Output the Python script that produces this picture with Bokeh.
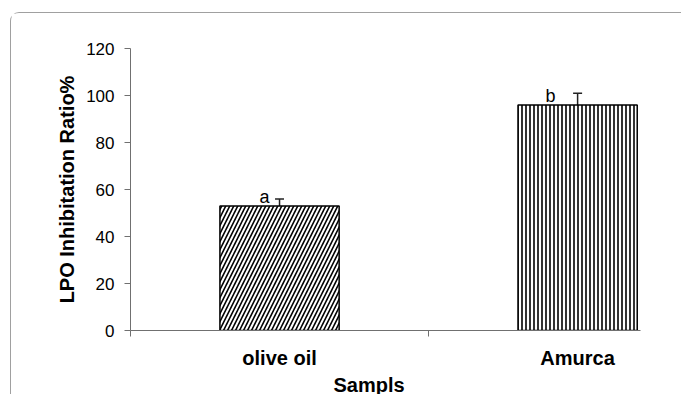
from bokeh.plotting import figure
from bokeh.models import Range1d, FixedTicker, Whisker, TeeHead, ColumnDataSource, Title
from bokeh.core.properties import value
from bokeh.embed import file_html
from bokeh.resources import INLINE

categories = ["olive oil", "Amurca"]
values = [53, 96]
errors = [3, 5]
letters = ["a", "b"]
y_ticks = [0, 20, 40, 60, 80, 100, 120]

hatches = ["/", "|"]
hatch_scales = [8, 4]
letter_dx = [-15, -27]

xs = [i + 0.5 for i in range(len(categories))]
src = ColumnDataSource(dict(
    x=xs, top=values, upper=[v + e for v, e in zip(values, errors)],
    lower=[v - e for v, e in zip(values, errors)], hatch=hatches,
    hscale=hatch_scales, letter=letters, dx=letter_dx,
))

FONT = "Liberation Sans"

p = figure(width=671, height=382, output_backend="svg", toolbar_location=None,
           x_range=Range1d(0, 1.711), y_range=Range1d(0, 120),
           min_border_left=119, min_border_top=35, min_border_right=42, min_border_bottom=62,
           styles={"margin-left": "10px", "margin-top": "12px",
                   "border-top": "1.5px solid #a0a0a0", "border-left": "1.5px solid #a0a0a0",
                   "border-top-left-radius": "9px"})
p.outline_line_color = None
p.background_fill_color = "white"

p.vbar(x="x", top="top", width=0.4, source=src, fill_color="white",
       line_color="black", line_width=1.5, hatch_pattern="hatch",
       hatch_color="black", hatch_scale="hscale", hatch_weight=1.6)

w = Whisker(base="x", upper="upper", lower="lower", source=src,
            line_color="#222222", line_width=1.5,
            upper_head=TeeHead(size=9, line_color="#222222", line_width=1.5),
            lower_head=TeeHead(size=9, line_color="#222222", line_width=1.5))
p.add_layout(w)

p.text(x="x", y="top", text="letter", source=src, x_offset="dx", y_offset=-9,
       text_align="center", text_baseline="alphabetic",
       text_font=value(FONT), text_font_size="18px", text_color="black")

# y axis
p.yaxis.ticker = FixedTicker(ticks=y_ticks)
p.yaxis.axis_label = "LPO Inhibitation Ratio%"
p.yaxis.axis_label_text_font = FONT
p.yaxis.axis_label_text_font_size = "20px"
p.yaxis.axis_label_text_font_style = "bold"
p.yaxis.axis_label_text_color = "black"
p.yaxis.axis_label_standoff = 5
p.yaxis.major_label_text_font = FONT
p.yaxis.major_label_text_font_size = "17px"
p.yaxis.major_label_text_color = "black"
p.yaxis.major_tick_out = 6
p.yaxis.major_tick_in = 0
p.yaxis.minor_tick_line_color = None
p.yaxis.major_label_standoff = 10
p.yaxis.axis_line_color = "#707070"
p.yaxis.major_tick_line_color = "#707070"

# x axis
p.xaxis.ticker = FixedTicker(ticks=xs, minor_ticks=[0, 1])
p.xaxis.major_label_overrides = {x: c for x, c in zip(xs, categories)}
p.xaxis.major_label_text_font = FONT
p.xaxis.major_label_text_font_size = "20px"
p.xaxis.major_label_text_font_style = "bold"
p.xaxis.major_label_text_color = "black"
p.xaxis.major_tick_line_color = None
p.xaxis.minor_tick_out = 6
p.xaxis.minor_tick_in = 0
p.xaxis.minor_tick_line_color = "#707070"
p.xaxis.axis_line_color = "#707070"
p.xaxis.major_label_standoff = 10
p.xaxis.axis_label_standoff = 0

p.add_layout(Title(text="Sampls", align="left", offset=203, text_font=FONT,
                   text_font_size="20px", text_font_style="bold", text_color="black",
                   standoff=0), "below")

p.xgrid.visible = False
p.ygrid.ticker = FixedTicker(ticks=[120])
p.ygrid.grid_line_color = "#808080"
p.ygrid.grid_line_width = 1.2

open("out.html", "w").write(file_html(p, INLINE))
